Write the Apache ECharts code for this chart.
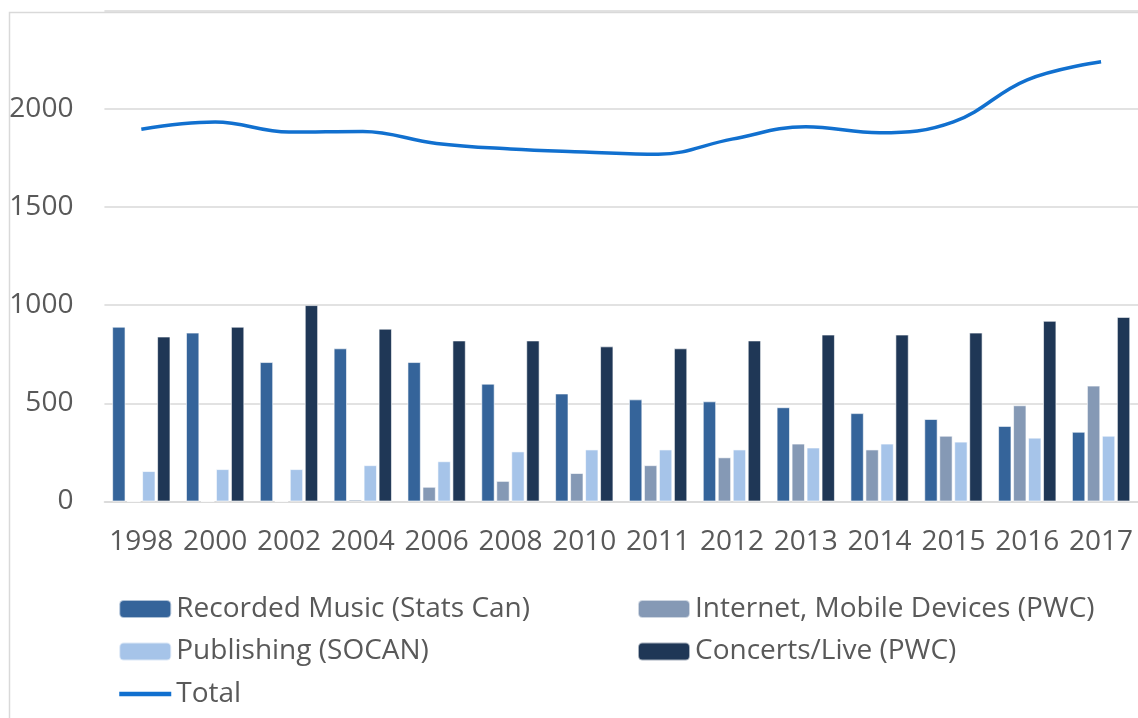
<!DOCTYPE html>
<html>
<head>
<meta charset="utf-8">
<script src="https://cdn.jsdelivr.net/npm/echarts@6/dist/echarts.min.js"></script>
<style>
  html, body { margin: 0; padding: 0; background: #fff; }
  #main { width: 1138px; height: 718px; }
</style>
</head>
<body>
<div id="main"></div>
<script>
  // data
  var years = ['1998', '2000', '2002', '2004', '2006', '2008', '2010', '2011', '2012', '2013', '2014', '2015', '2016', '2017'];
  var recorded = [890, 860, 710, 780, 710, 600, 550, 520, 510, 480, 450, 420, 385, 355];
  var internet = [0, 0, 0, 10, 75, 105, 145, 185, 225, 295, 265, 335, 490, 590];
  var publishing = [155, 165, 165, 185, 205, 255, 265, 265, 265, 275, 295, 305, 325, 335];
  var concerts = [840, 890, 1000, 880, 820, 820, 790, 780, 820, 850, 850, 860, 920, 940];
  var total = [1895, 1932, 1881, 1884, 1823, 1795, 1780, 1768, 1845, 1908, 1877, 1933, 2147, 2239];

  var font = 'Open Sans';
  var textColor = '#595959';
  var gridColor = '#d9d9d9';

  var myChart = echarts.init(document.getElementById('main'));

  function barSeries(name, data, color) {
    return {
      name: name,
      type: 'bar',
      data: data,
      barGap: '12%',
      barCategoryGap: '21%',
      itemStyle: {
        color: color,
        borderColor: 'rgba(255,255,255,0.6)',
        borderWidth: 1
      }
    }
  }

  var legendText = { color: textColor, fontFamily: font, fontSize: 28, lineHeight: 30 };

  var option = {
    backgroundColor: '#fff',
    animation: false,
    graphic: [{
      type: 'rect',
      left: 7,
      top: 10,
      shape: { width: 1300, height: 900 },
      style: { fill: null, stroke: gridColor, lineWidth: 1.5 },
      silent: true
    }],
    grid: {
      left: 104.4,
      top: 10.5,
      width: 1038,
      height: 491
    },
    legend: [{
      orient: 'vertical',
      left: 117,
      top: 594,
      padding: 0,
      itemWidth: 52,
      itemHeight: 18,
      itemGap: 12.5,
      textStyle: legendText,
      data: ['Recorded Music (Stats Can)', 'Publishing (SOCAN)',
        { name: 'Total', itemStyle: { opacity: 0 }, lineStyle: { width: 4.5 } }]
    }, {
      orient: 'vertical',
      left: 637,
      top: 594,
      padding: 0,
      itemWidth: 52,
      itemHeight: 18,
      itemGap: 12.5,
      textStyle: legendText,
      data: ['Internet, Mobile Devices (PWC)', 'Concerts/Live (PWC)']
    }],
    xAxis: {
      type: 'category',
      data: years,
      axisLine: { lineStyle: { color: gridColor, width: 1.5 } },
      axisTick: { show: false },
      axisLabel: { color: textColor, fontFamily: font, fontSize: 28, margin: 27, interval: 0 }
    },
    yAxis: {
      type: 'value',
      min: 0,
      max: 2500,
      interval: 500,
      axisLine: { show: false },
      axisTick: { show: false },
      splitLine: { lineStyle: { color: gridColor, width: 1.5 } },
      axisLabel: {
        color: textColor, fontFamily: font, fontSize: 28, margin: 31, showMaxLabel: false,
        formatter: function (v) { return String(v) }
      }
    },
    series: [
      barSeries('Recorded Music (Stats Can)', recorded, '#35649a'),
      barSeries('Internet, Mobile Devices (PWC)', internet, '#8599b5'),
      barSeries('Publishing (SOCAN)', publishing, '#a6c4e9'),
      barSeries('Concerts/Live (PWC)', concerts, '#1f3756'),
      {
        name: 'Total',
        type: 'line',
        data: total,
        smooth: 0.4,
        symbol: 'none',
        lineStyle: { color: '#1170cf', width: 3.5 },
        itemStyle: { color: '#1170cf' }
      }
    ]
  };

  myChart.setOption(option);
</script>
</body>
</html>
